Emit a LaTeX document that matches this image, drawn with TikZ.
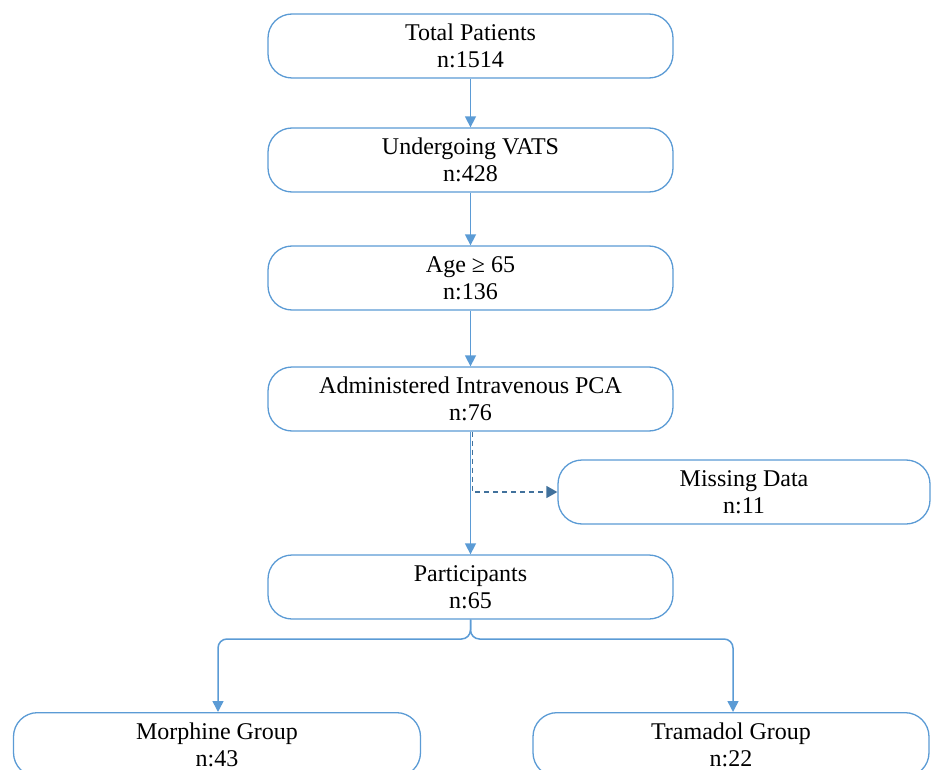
\documentclass[tikz,border=0pt]{standalone}
\usepackage{fontspec}
\setmainfont{Liberation Serif}
\usetikzlibrary{arrows.meta}
\definecolor{boxblue}{HTML}{5B9BD5}
\definecolor{dashblue}{HTML}{41719C}
\begin{document}
\begin{tikzpicture}[x=1pt,y=1pt,
  flowbox/.style={draw=boxblue, line width=1.3pt, rounded corners=24pt, fill=white,
    minimum height=64pt, align=center, inner sep=0pt,
    font=\fontsize{24}{27.5}\selectfont},
  conn/.style={draw=boxblue, line width=1.5pt, -{Triangle[length=11pt,width=11pt]}},
  dashconn/.style={draw=dashblue, line width=1.5pt, dashed, dash pattern=on 5pt off 4pt,
    -{Triangle[length=11pt,width=12pt]}}]
\useasboundingbox (0,0) rectangle (934,-770);
\begin{scope}
\clip (0,0) rectangle (934,-770);
\node[flowbox, minimum width=405pt] (tp) at (470.5,-46) {Total Patients\\n:1514};
\node[flowbox, minimum width=405pt] (vats) at (470.5,-160) {Undergoing VATS\\n:428};
\node[flowbox, minimum width=405pt] (age) at (470.5,-278) {Age ≥ 65\\n:136};
\node[flowbox, minimum width=405pt] (adm) at (470.5,-399) {Administered Intravenous PCA\\n:76};
\node[flowbox, minimum width=372pt] (miss) at (744,-492) {Missing Data\\n:11};
\node[flowbox, minimum width=405pt] (part) at (470.5,-587) {Participants\\n:65};
\node[flowbox, minimum width=407pt, anchor=north] (morph) at (217,-712) {Morphine Group\\n:43};
\node[flowbox, minimum width=396pt, anchor=north] (tram) at (731,-712) {Tramadol Group\\n:22};
\draw[dashconn] ([xshift=2pt]adm.south) |- (miss.west);
\draw[conn] (tp.south) -- (vats.north);
\draw[conn] (vats.south) -- (age.north);
\draw[conn] (age.south) -- (adm.north);
\draw[conn] (adm.south) -- (part.north);
\coordinate (split) at (470.5,-639);
\draw[conn, rounded corners=9pt] (part.south) -- (split) -| ([xshift=1pt]morph.north);
\draw[conn, rounded corners=9pt] (part.south) -- (split) -| ([xshift=2pt]tram.north);
\end{scope}
\end{tikzpicture}
\end{document}
